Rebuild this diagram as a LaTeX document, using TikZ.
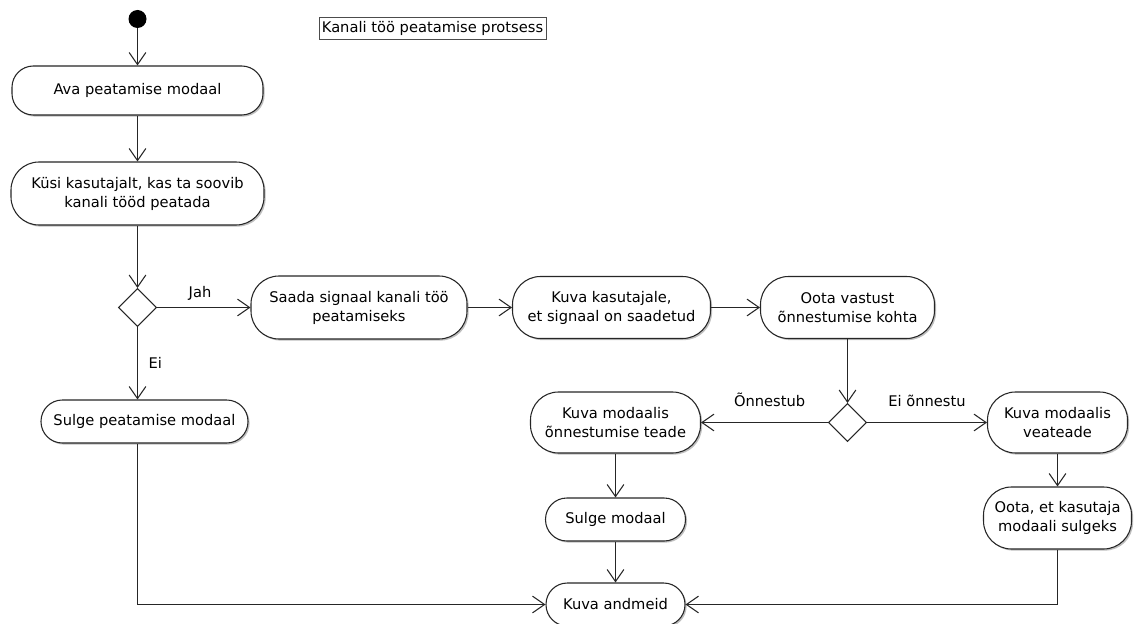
\documentclass[tikz,border=0pt]{standalone}
\usepackage{fontspec}
\setmainfont{DejaVu Sans}
\usetikzlibrary{shapes.geometric, arrows.meta, shadows}
\begin{document}
\begin{tikzpicture}[x=0.75pt, y=-0.75pt,
  txt/.style={font=\fontsize{11pt}{14.25pt}\selectfont, text=black},
  act/.style={txt, draw=black!85, line width=0.8pt, fill=white, rounded corners=16pt,
    align=center, inner sep=0pt,
    drop shadow={shadow xshift=1.2pt, shadow yshift=-1.2pt, opacity=0.25, fill=black}},
  acttall/.style={act, rounded corners=21pt},
  dec/.style={draw=black!85, line width=0.8pt, fill=white, diamond, inner sep=0pt,
    minimum width=28.5pt, minimum height=28.5pt},
  flow/.style={draw=black!85, line width=0.8pt,
    -{Straight Barb[length=9pt, width=12.5pt]}},
  lbl/.style={txt, inner sep=0pt},
]
\useasboundingbox (0,0) rectangle (1134,624);

% start and title
\node[circle, fill=black, minimum size=13.5pt, inner sep=0pt] (start) at (137.5,19) {};
\node[txt, draw=black!70, line width=0.6pt, minimum width=170.25pt, minimum height=16.5pt,
      inner sep=0pt] (title) at (432.5,28) {Kanali töö peatamise protsess};

% activities
\node[act, minimum width=188.25pt, minimum height=36.75pt] (ava) at (137.5,90.5) {Ava peatamise modaal};
\node[acttall, minimum width=189.75pt, minimum height=47.25pt] (kysi) at (137.5,193.5)
  {Küsi kasutajalt, kas ta soovib\\kanali tööd peatada};
\node[dec] (d1) at (137.5,307.5) {};
\node[acttall, minimum width=162pt, minimum height=47.25pt] (saada) at (359,307.5)
  {Saada signaal kanali töö\\peatamiseks};
\node[acttall, minimum width=148.5pt, minimum height=46.5pt] (kuvak) at (611.5,307.5)
  {Kuva kasutajale,\\et signaal on saadetud};
\node[acttall, minimum width=130.5pt, minimum height=46.5pt] (ootav) at (847.5,307.5)
  {Oota vastust\\õnnestumise kohta};
\node[dec] (d2) at (847.5,422.5) {};
\node[act, minimum width=155.25pt, minimum height=32.25pt] (sulgep) at (144.5,421.5)
  {Sulge peatamise modaal};
\node[acttall, minimum width=127.5pt, minimum height=45.75pt] (kuvaok) at (615.5,422.5)
  {Kuva modaalis\\õnnestumise teade};
\node[acttall, minimum width=105pt, minimum height=45.75pt] (kuvaerr) at (1057.5,422.5)
  {Kuva modaalis\\veateade};
\node[act, minimum width=105pt, minimum height=32.25pt] (sulgem) at (615.5,519.5)
  {Sulge modaal};
\node[acttall, minimum width=111pt, minimum height=46.5pt] (ootaet) at (1057.5,518)
  {Oota, et kasutaja\\modaali sulgeks};
\node[act, minimum width=104.25pt, minimum height=32.25pt] (kuvaand) at (615.5,604.5)
  {Kuva andmeid};

% connectors
\draw[flow] (start) -- (ava);
\draw[flow] (ava) -- (kysi);
\draw[flow] (kysi) -- (d1);
\draw[flow] (d1) -- node[lbl, anchor=base, pos=0.46, yshift=7.5pt] (ljah) {Jah} (saada);
\draw[flow] (d1) -- node[lbl, anchor=west, pos=0.5, xshift=8pt] (lei) {Ei} (d1 |- sulgep.north);
\draw[flow] (saada) -- (kuvak);
\draw[flow] (kuvak) -- (ootav);
\draw[flow] (ootav) -- (d2);
\draw[flow] (d2) -- node[lbl, anchor=base, pos=0.46, yshift=12pt] (lok) {Õnnestub} (kuvaok);
\draw[flow] (d2) -- node[lbl, anchor=base, pos=0.5, yshift=12pt] (lerr) {Ei õnnestu} (kuvaerr);
\draw[flow] (kuvaok) -- (sulgem);
\draw[flow] (kuvaerr) -- (ootaet);
\draw[flow] (sulgem) -- (kuvaand);
\draw[flow] (d1 |- sulgep.south) |- (kuvaand.west);
\draw[flow] (ootaet.south) |- (kuvaand.east);
\end{tikzpicture}
\end{document}
